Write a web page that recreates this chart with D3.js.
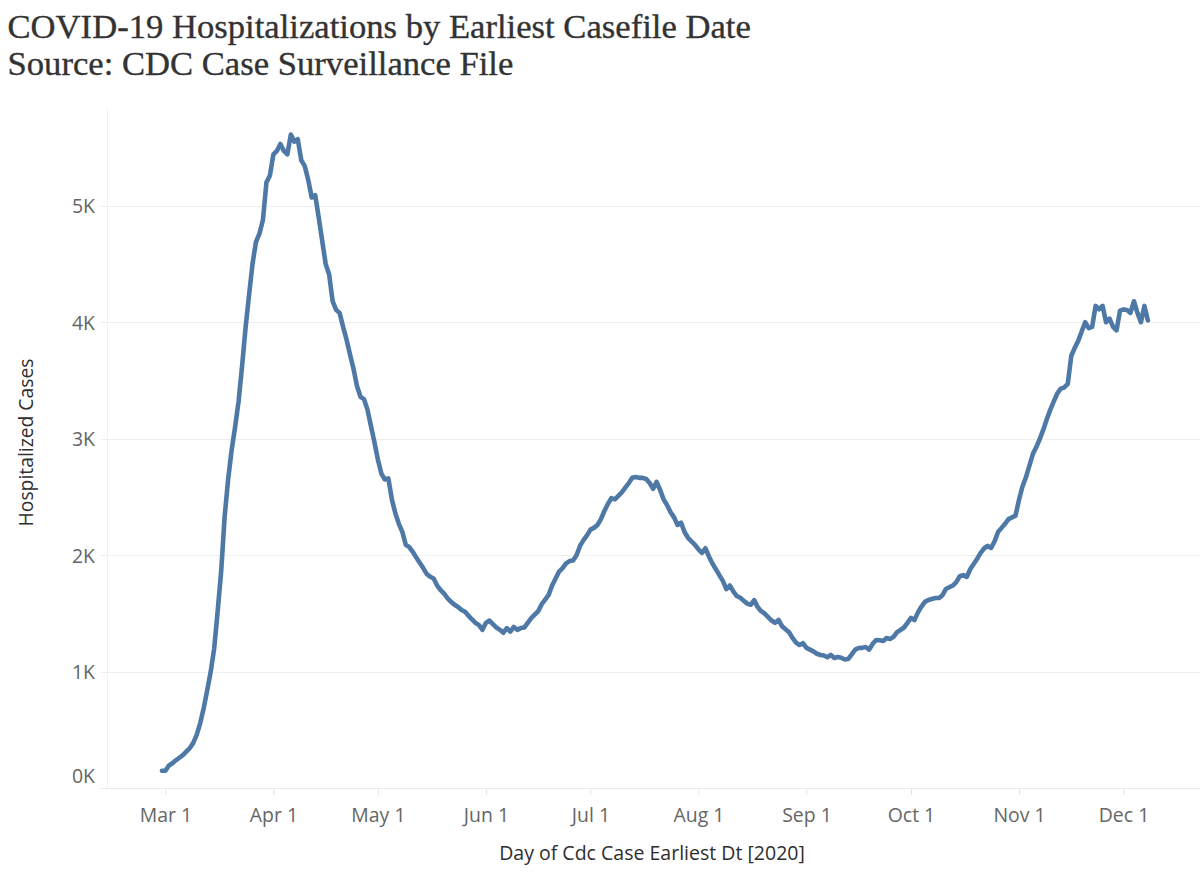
<!DOCTYPE html>
<html><head><meta charset="utf-8">
<script src="https://cdn.jsdelivr.net/npm/d3@7/dist/d3.min.js"></script>
<style>body{margin:0;background:#fff}svg{display:block}</style>
</head><body>
<svg id="chart" width="1200" height="878"></svg>
<script>
// ---- data ----
const titleLines = ["COVID-19 Hospitalizations by Earliest Casefile Date", "Source: CDC Case Surveillance File"];
const yAxisTitle = "Hospitalized Cases";
const xAxisTitle = "Day of Cdc Case Earliest Dt [2020]";
const startDate = "2020-02-29"; // first day of the series, one value per day
const hospitalized = [
  150, 150, 195, 215, 240, 262, 285, 315, 345, 390,
  460, 560, 690, 840, 1000, 1200, 1520, 1860, 2330, 2650,
  2900, 3100, 3320, 3620, 3950, 4230, 4500, 4690, 4760, 4880,
  5200, 5260, 5440, 5470, 5530, 5470, 5440, 5610, 5550, 5570,
  5390, 5340, 5220, 5070, 5090, 4900, 4700, 4500, 4410, 4180,
  4106, 4080, 3960, 3850, 3720, 3600, 3450, 3360, 3340, 3250,
  3110, 2970, 2820, 2700, 2650, 2660, 2480, 2360, 2270, 2200,
  2090, 2070, 2030, 1980, 1935, 1890, 1840, 1815, 1800, 1740,
  1700, 1670, 1630, 1600, 1575, 1556, 1530, 1515, 1480, 1450,
  1420, 1400, 1360, 1420, 1440, 1410, 1380, 1360, 1335, 1375,
  1345, 1385, 1360, 1375, 1380, 1420, 1460, 1490, 1520, 1580,
  1620, 1660, 1740, 1800, 1860, 1890, 1930, 1950, 1955, 2000,
  2080, 2130, 2170, 2220, 2235, 2260, 2310, 2380, 2440, 2490,
  2480, 2510, 2540, 2580, 2620, 2665, 2672, 2664, 2664, 2655,
  2620, 2570, 2630, 2560, 2480, 2430, 2370, 2325, 2260, 2280,
  2200, 2150, 2120, 2090, 2050, 2020, 2060, 1990, 1930, 1880,
  1830, 1780, 1710, 1740, 1690, 1650, 1635, 1610, 1585, 1575,
  1615, 1555, 1520, 1500, 1470, 1440, 1420, 1445, 1390, 1365,
  1340, 1290, 1250, 1230, 1245, 1205, 1190, 1175, 1155, 1144,
  1140, 1125, 1145, 1118, 1127, 1120, 1105, 1110, 1150, 1190,
  1204, 1205, 1213, 1190, 1240, 1273, 1270, 1265, 1290, 1282,
  1300, 1340, 1359, 1380, 1420, 1462, 1444, 1510, 1560, 1600,
  1616, 1625, 1633, 1633, 1655, 1710, 1725, 1740, 1770, 1820,
  1830, 1814, 1880, 1925, 1970, 2020, 2060, 2080, 2063, 2120,
  2200, 2235, 2270, 2310, 2325, 2340, 2475, 2590, 2670, 2770,
  2870, 2930, 3000, 3080, 3170, 3250, 3320, 3390, 3430, 3440,
  3470, 3710, 3780, 3840, 3920, 4000, 3950, 3960, 4140, 4110,
  4140, 4000, 4030, 3960, 3930, 4100, 4110, 4105, 4080, 4180,
  4080, 4000, 4140, 4015
];
const yTickValues = [0, 1000, 2000, 3000, 4000, 5000];
const yTickLabels = ["0K", "1K", "2K", "3K", "4K", "5K"];
const xTickDates = ["2020-03-01","2020-04-01","2020-05-01","2020-06-01","2020-07-01",
                    "2020-08-01","2020-09-01","2020-10-01","2020-11-01","2020-12-01"];

// ---- build ----
const parse = d3.utcParse("%Y-%m-%d");
const start = parse(startDate);
const series = hospitalized.map((v, i) => ({date: d3.utcDay.offset(start, i), value: v}));

const svg = d3.select("#chart");
const x = d3.scaleUtc().domain([parse("2020-03-01"), parse("2020-12-01")]).range([165.4, 1123.5]);
const y = d3.scaleLinear().domain([0, 5000]).range([788.3, 205.7]);

const sans = "'Open Sans', 'Noto Sans', sans-serif";

// fit helper: scale font-size so that rendered width equals target
function fitSize(text, family, weight, target) {
  const t = svg.append("text").attr("font-family", family).attr("font-weight", weight)
    .attr("font-size", 100).text(text);
  const w = t.node().getComputedTextLength();
  t.remove();
  return 100 * target / w;
}

// gridlines
const gridLeft = 100, gridRight = 1200;
svg.append("g").selectAll("line").data(yTickValues.filter(d => d > 0)).join("line")
  .attr("x1", gridLeft).attr("x2", gridRight)
  .attr("y1", d => Math.round(y(d)) + 0.5).attr("y2", d => Math.round(y(d)) + 0.5)
  .attr("stroke", "#eeeeee").attr("stroke-width", 1.2);
// zero line
svg.append("line").attr("x1", gridLeft).attr("x2", gridRight)
  .attr("y1", Math.round(y(0)) + 0.5).attr("y2", Math.round(y(0)) + 0.5)
  .attr("stroke", "#ebebeb").attr("stroke-width", 1.2);
// pane left border
svg.append("line").attr("x1", 107.5).attr("x2", 107.5)
  .attr("y1", 108).attr("y2", Math.round(y(0)))
  .attr("stroke", "#f0f0f0").attr("stroke-width", 1);

const tickSize = fitSize("Mar 1", sans, 400, 52.4);

// y axis
const yAxis = d3.axisLeft(y).tickValues(yTickValues)
  .tickFormat((d, i) => yTickLabels[i]).tickSize(0).tickPadding(5);
const gy = svg.append("g").attr("transform", `translate(${gridLeft},0)`).call(yAxis);
gy.select(".domain").remove();
gy.selectAll("text").attr("font-family", sans).attr("font-size", tickSize)
  .attr("fill", "#666666").attr("dy", "0.36em")
  .attr("y", d => d === 0 ? -13 : 0);

// x axis
const xAxis = d3.axisBottom(x).tickValues(xTickDates.map(parse))
  .tickFormat(d3.utcFormat("%b %-d")).tickSize(6);
const gx = svg.append("g").attr("transform", `translate(0,${Math.round(y(0)) + 1})`).call(xAxis);
gx.select(".domain").remove();
gx.selectAll(".tick line").attr("stroke", "#e4e4e4");
gx.selectAll("text").attr("font-family", sans).attr("font-size", tickSize)
  .attr("fill", "#666666").attr("y", 32.5).attr("dy", 0);

// line
const line = d3.line().x(d => x(d.date)).y(d => y(d.value));
svg.append("path").datum(series).attr("d", line)
  .attr("fill", "none").attr("stroke", "#4e79a7").attr("stroke-width", 4.6)
  .attr("stroke-linejoin", "round").attr("stroke-linecap", "round");

// axis titles
const xtSize = fitSize(xAxisTitle, sans, 400, 306);
svg.append("text").attr("x", 652).attr("y", 859.5).attr("text-anchor", "middle")
  .attr("font-family", sans).attr("font-size", xtSize).attr("fill", "#2e2e2e")
  .text(xAxisTitle);
const ytSize = fitSize(yAxisTitle, sans, 400, 168);
svg.append("text").attr("transform", "translate(33,442.5) rotate(-90)").attr("text-anchor", "middle")
  .attr("font-family", sans).attr("font-size", ytSize).attr("fill", "#2e2e2e")
  .text(yAxisTitle);

// title
const serif = "'Liberation Serif', 'DejaVu Serif', serif";
const titleSize = fitSize(titleLines[0], serif, 400, 743.5);
svg.append("g").selectAll("text").data(titleLines).join("text")
  .attr("x", 7.5).attr("y", (d, i) => i === 0 ? 37.5 : 75)
  .attr("font-family", serif).attr("font-size", titleSize).attr("fill", "#333")
  .attr("stroke", "#333").attr("stroke-width", 0.35)
  .text(d => d);
</script>
</body></html>
